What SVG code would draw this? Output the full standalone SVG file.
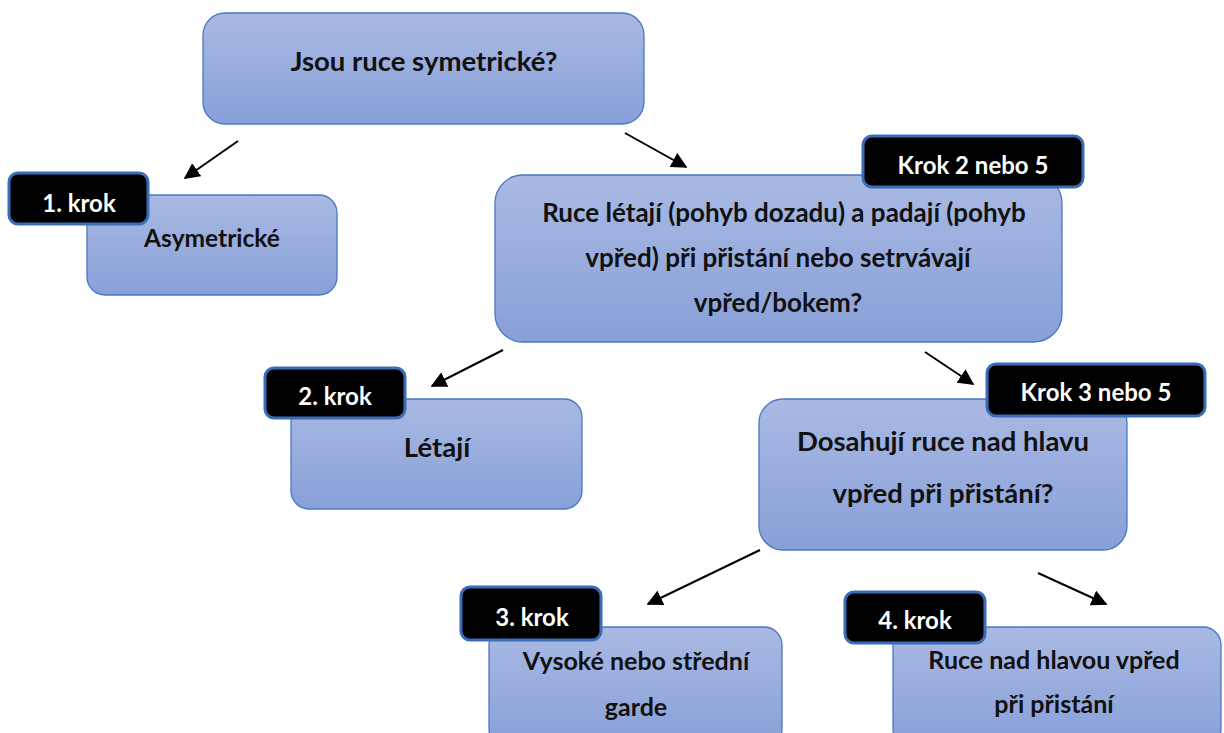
<svg xmlns="http://www.w3.org/2000/svg" width="1224" height="733" viewBox="0 0 1224 733">
  <style>
    .box { fill: url(#fillGrad); stroke: #4a78c4; stroke-width: 1.3; }
    .tag { fill: #000; stroke: #3a6cb8; stroke-width: 3; }
    .t { font-family: Lato, "Open Sans", "Liberation Sans", sans-serif; font-weight: bold; fill: #111; text-anchor: middle; font-size: 26px; }
    .tw { font-family: Lato, "Open Sans", "Liberation Sans", sans-serif; font-weight: bold; fill: #fff; text-anchor: middle; font-size: 24px; }
    .link { stroke: #000; stroke-width: 2; fill: none; marker-end: url(#head); }
  </style>
  <defs>
    <linearGradient id="fillGrad" x1="0" y1="0" x2="0" y2="1">
      <stop offset="0" stop-color="#a9b9e3"/>
      <stop offset="1" stop-color="#88a0d8"/>
    </linearGradient>
    <marker id="head" viewBox="0 0 10 10" refX="9" refY="5" markerWidth="16" markerHeight="16" markerUnits="userSpaceOnUse" orient="auto">
      <path d="M0,0 L10,5 L0,10 z" fill="#000"/>
    </marker>
  </defs>
  <rect width="1224" height="733" fill="#fff"/>

  <g id="connectors">
    <line class="link" x1="238" y1="141" x2="185" y2="178"/>
    <line class="link" x1="625" y1="133" x2="686" y2="167"/>
    <line class="link" x1="503" y1="350" x2="432" y2="386"/>
    <line class="link" x1="925" y1="352" x2="973" y2="384"/>
    <line class="link" x1="760" y1="550" x2="648" y2="604"/>
    <line class="link" x1="1038" y1="573" x2="1106" y2="604"/>
  </g>

  <g id="symmetric">
    <rect class="box" x="203" y="13" width="441" height="111" rx="22"/>
    <text class="t" x="424" y="71" style="font-size:27.5px">Jsou ruce symetrické?</text>
  </g>

  <g id="asymmetric">
    <rect class="box" x="87" y="195" width="250" height="100" rx="18"/>
    <text class="t" x="212" y="247" style="font-size:24.5px">Asymetrické</text>
    <rect class="tag" x="9" y="173" width="139" height="51" rx="9"/>
    <text class="tw" x="79" y="212">1. krok</text>
  </g>

  <g id="flying">
    <rect class="box" x="495" y="175" width="567" height="167" rx="28"/>
    <text class="t" x="784" y="222">Ruce létají (pohyb dozadu) a padají (pohyb</text>
    <text class="t" x="778" y="267">vpřed) při přistání nebo setrvávají</text>
    <text class="t" x="778" y="312">vpřed/bokem?</text>
    <rect class="tag" x="863" y="136" width="220" height="51" rx="9"/>
    <text class="tw" x="973" y="174">Krok 2 nebo 5</text>
  </g>

  <g id="letaji">
    <rect class="box" x="291" y="399" width="291" height="110" rx="18"/>
    <text class="t" x="437" y="457" style="font-size:27.5px">Létají</text>
    <rect class="tag" x="265" y="368" width="140" height="50" rx="9"/>
    <text class="tw" x="335" y="405">2. krok</text>
  </g>

  <g id="overhead">
    <rect class="box" x="759" y="399" width="368" height="151" rx="24"/>
    <text class="t" x="943" y="451" style="font-size:27.5px">Dosahují ruce nad hlavu</text>
    <text class="t" x="943" y="503" style="font-size:27.5px">vpřed při přistání?</text>
    <rect class="tag" x="987" y="364" width="218" height="52" rx="9"/>
    <text class="tw" x="1096" y="401">Krok 3 nebo 5</text>
  </g>

  <g id="guard">
    <rect class="box" x="489" y="627" width="293" height="120" rx="18"/>
    <text class="t" x="636" y="670" style="font-size:25px">Vysoké nebo střední</text>
    <text class="t" x="636" y="716" style="font-size:25px">garde</text>
    <rect class="tag" x="461" y="587" width="140" height="53" rx="9"/>
    <text class="tw" x="532" y="626">3. krok</text>
  </g>

  <g id="forward">
    <rect class="box" x="893" y="627" width="328" height="120" rx="18"/>
    <text class="t" x="1054" y="669" style="font-size:25px">Ruce nad hlavou vpřed</text>
    <text class="t" x="1054" y="713" style="font-size:25px">při přistání</text>
    <rect class="tag" x="845" y="592" width="140" height="51" rx="9"/>
    <text class="tw" x="915" y="629">4. krok</text>
  </g>
</svg>
